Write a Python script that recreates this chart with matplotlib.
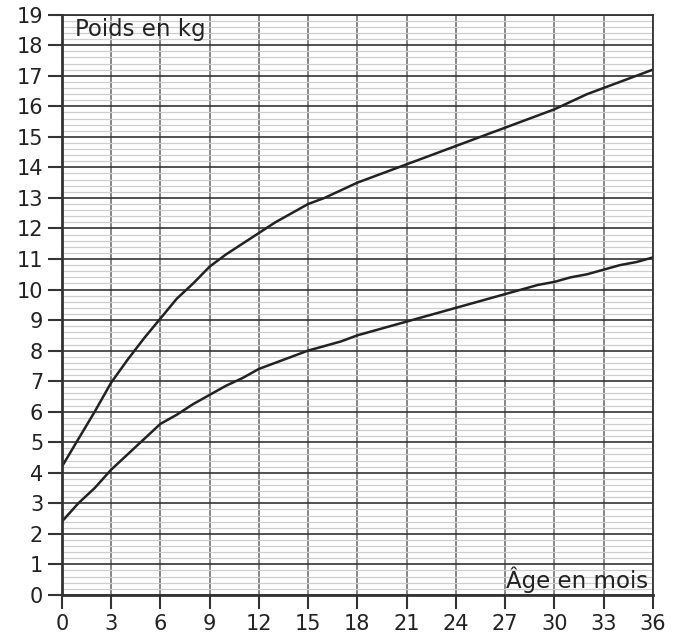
import numpy as np
import matplotlib.pyplot as plt

# Age in months and weight in kg
months = list(range(0, 37))
upper = [4.2, 5.1, 6.0, 6.95, 7.7, 8.4, 9.05, 9.7, 10.2, 10.75, 11.15, 11.5, 11.85,
         12.2, 12.5, 12.8, 13.0, 13.25, 13.5, 13.7, 13.9, 14.1, 14.3, 14.5, 14.7,
         14.9, 15.1, 15.3, 15.5, 15.7, 15.9, 16.15, 16.4, 16.6, 16.8, 17.0, 17.2]
lower = [2.4, 3.0, 3.5, 4.1, 4.6, 5.1, 5.6, 5.9, 6.25, 6.55, 6.85, 7.1, 7.4,
         7.6, 7.8, 8.0, 8.15, 8.3, 8.5, 8.65, 8.8, 8.95, 9.1, 9.25, 9.4,
         9.55, 9.7, 9.85, 10.0, 10.15, 10.25, 10.4, 10.5, 10.65, 10.8, 10.9, 11.05]

x_ticks = list(range(0, 37, 3))
y_ticks = list(range(0, 20))

fig = plt.figure(figsize=(6.8, 6.39), dpi=100)
ax = fig.add_axes([0.091, 0.069, 0.869, 0.908])

# Minor and major grid
ax.set_yticks(np.arange(0, 19.01, 0.2), minor=True)
ax.grid(which='minor', axis='y', color='#cdcdcd', linewidth=0.9)
ax.grid(which='major', axis='y', color='#333333', linewidth=1.2)
ax.grid(which='major', axis='x', color='#666666', linewidth=1.1)
ax.set_axisbelow(True)

ax.plot(months, upper, color='#222222', linewidth=1.8)
ax.plot(months, lower, color='#222222', linewidth=1.8)

ax.set_xlim(0, 36)
ax.set_ylim(0, 19)
ax.set_xticks(x_ticks)
ax.set_yticks(y_ticks)
ax.tick_params(which='major', direction='out', length=10, width=1.5,
               labelsize=15, color='#333333', labelcolor='#222222')
ax.tick_params(which='minor', length=0)

for s in ax.spines.values():
    s.set_color('#333333')
    s.set_linewidth(1.3)
ax.spines['left'].set_linewidth(2)
ax.spines['bottom'].set_linewidth(2)

ax.text(0.8, 18.5, 'Poids en kg', fontsize=16.5, color='#222222', va='center')
ax.text(35.7, 0.5, 'Âge en mois', fontsize=16.5, color='#222222', va='center', ha='right')

fig.savefig('out.png', dpi=100)
